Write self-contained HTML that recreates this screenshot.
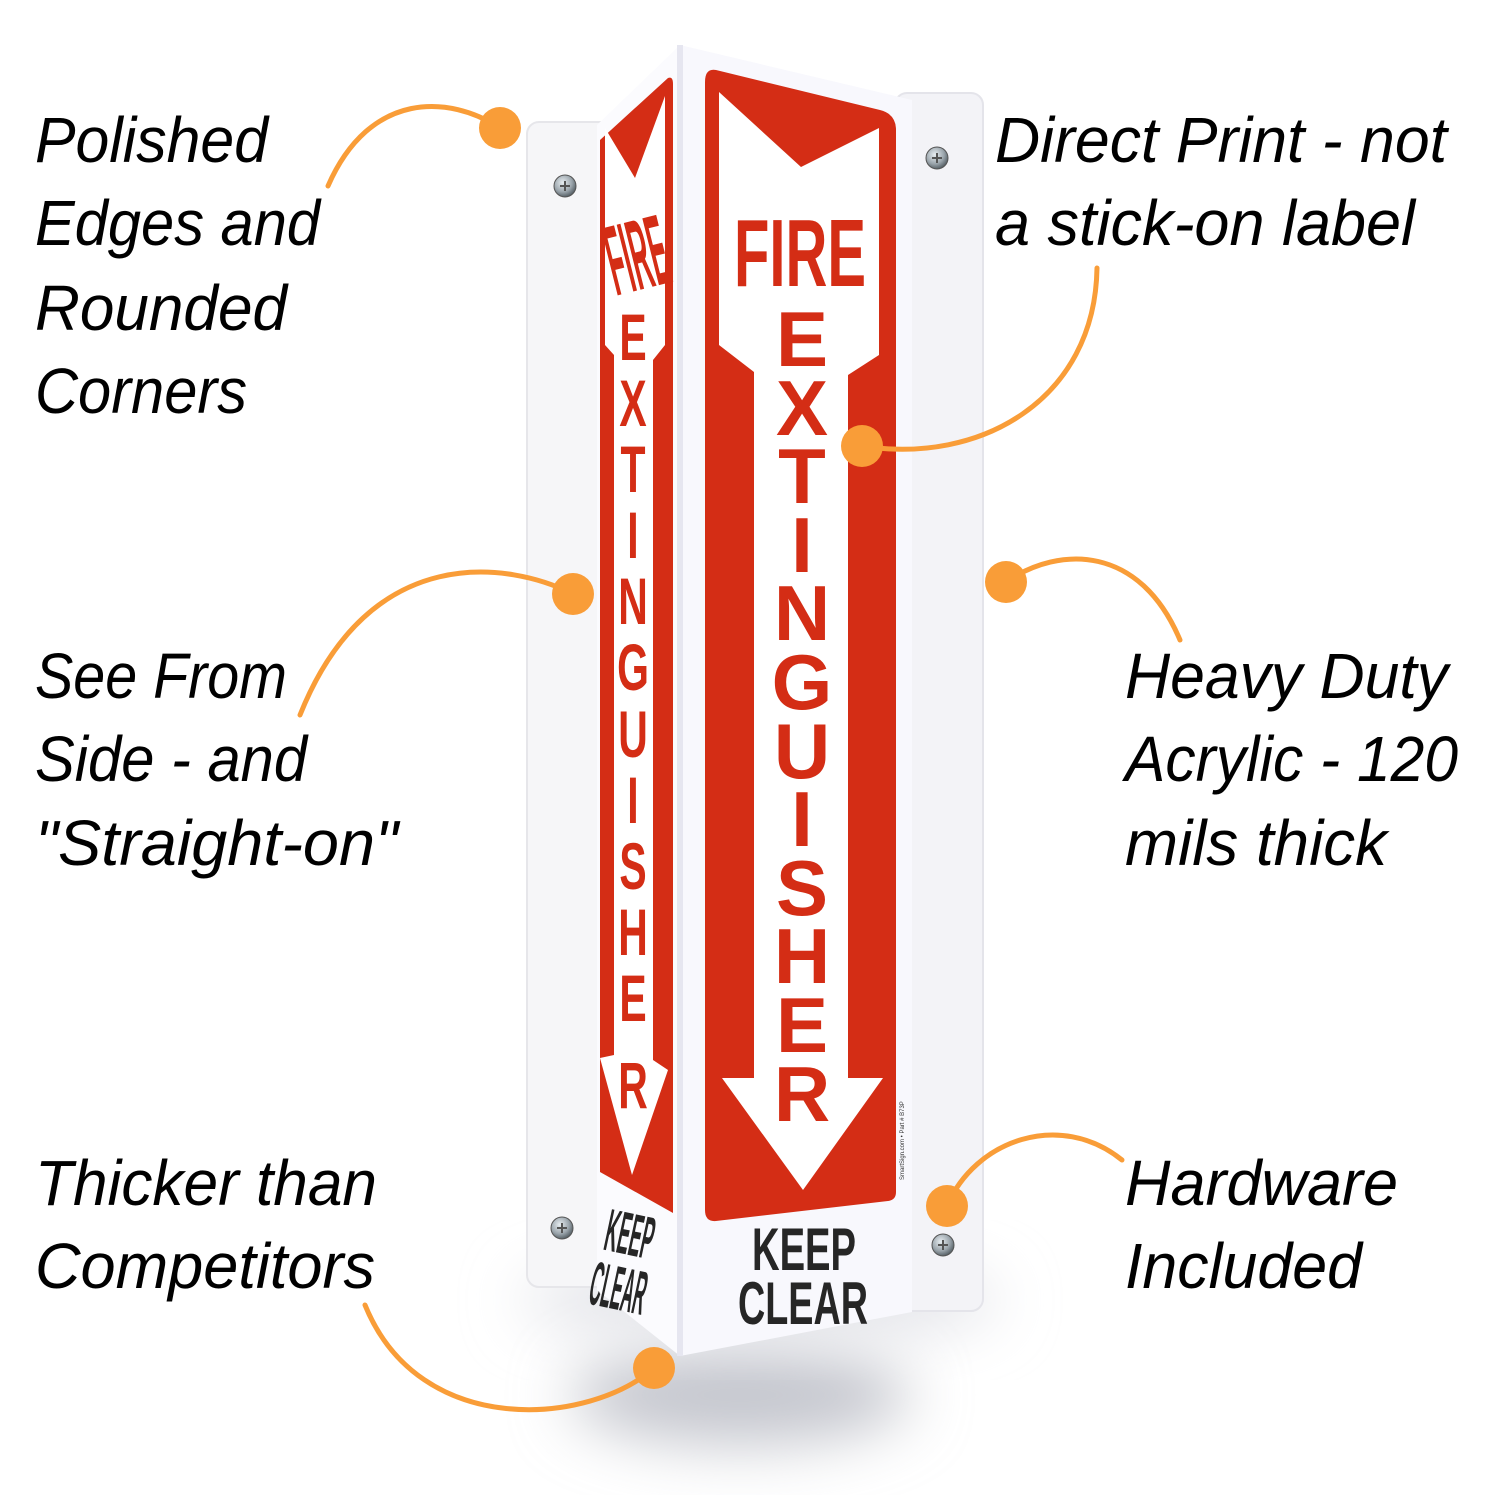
<!DOCTYPE html>
<html><head><meta charset="utf-8"><style>
html,body{margin:0;padding:0;background:#fff;width:1500px;height:1500px;overflow:hidden}
</style></head><body>
<svg width="1500" height="1500" viewBox="0 0 1500 1500" xmlns="http://www.w3.org/2000/svg">
<defs>
<filter id="blur" x="-50%" y="-50%" width="200%" height="200%"><feGaussianBlur stdDeviation="30"/></filter>
<radialGradient id="scr" cx="40%" cy="35%" r="70%"><stop offset="0" stop-color="#e8eef2"/><stop offset="0.6" stop-color="#9aa4ab"/><stop offset="1" stop-color="#4a545a"/></radialGradient>
</defs>
<ellipse cx="740" cy="1395" rx="170" ry="50" fill="#c4c6ce" filter="url(#blur)"/>
<ellipse cx="760" cy="1300" rx="240" ry="40" fill="#e2e3e8" filter="url(#blur)"/>
<rect x="527" y="122" width="90" height="1165" rx="12" fill="#f6f6f8" stroke="#e6e6ea" stroke-width="2"/>
<rect x="895" y="93" width="88" height="1218" rx="12" fill="#f3f3f7" stroke="#e4e4ea" stroke-width="2"/>
<polygon points="597,125 680,45 680,1356 597,1290" fill="#fbfbfe"/>
<polygon points="680,45 912,100 912,1312 680,1356" fill="#f8f8fd"/>
<line x1="680" y1="45" x2="680" y2="1356" stroke="#e6e6f0" stroke-width="6"/>
<path d="M600,140 L668,78 Q673,76 673,84 L673,1213 L600,1172 Z" fill="#d42d15"/>
<path d="M605,128 L635,178 L665,96 L665,345 L653,360 L653,1060 L668,1070 L632,1175 L600,1058 L614,1055 L614,355 L605,345 Z" fill="#fff"/>
<path d="M716,70 L880,110 Q896,114 896,130 L896,1192 Q896,1200 888,1201 L716,1221 Q705,1222 705,1210 L705,82 Q705,68 716,70 Z" fill="#d42d15"/>
<path d="M719,92 L801,167 L879,128 L879,355 L848,375 L848,1078 L883,1078 L803,1190 L722,1078 L754,1078 L754,372 L719,345 Z" fill="#fff"/>
<text x="734" y="286" font-family="Liberation Sans, sans-serif" font-weight="bold" font-size="96" fill="#d42d15" textLength="132" lengthAdjust="spacingAndGlyphs">FIRE</text>
<g transform="translate(634 248) rotate(-14)"><text x="-29" y="42" font-family="Liberation Sans, sans-serif" font-weight="bold" font-size="100" fill="#d42d15" textLength="60" lengthAdjust="spacingAndGlyphs">FIRE</text></g>
<g font-family="Liberation Sans, sans-serif" font-weight="bold" font-size="78" fill="#d42d15" text-anchor="middle">
<text x="802" y="366">E</text><text x="802" y="435">X</text><text x="802" y="503">T</text><text x="802" y="572">I</text><text x="802" y="640">N</text><text x="802" y="709">G</text><text x="802" y="778">U</text><text x="802" y="846">I</text><text x="802" y="915">S</text><text x="802" y="983">H</text><text x="802" y="1052">E</text><text x="802" y="1121">R</text>
</g>
<g font-family="Liberation Sans, sans-serif" font-weight="bold" font-size="66" fill="#d42d15" text-anchor="middle" transform="translate(633 0) scale(0.62 1) translate(-633 0)">
<text x="633" y="360">E</text><text x="633" y="426">X</text><text x="633" y="492">T</text><text x="633" y="558">I</text><text x="633" y="624">N</text><text x="633" y="690">G</text><text x="633" y="757">U</text><text x="633" y="823">I</text><text x="633" y="889">S</text><text x="633" y="955">H</text><text x="633" y="1021">E</text><text x="633" y="1108">R</text>
</g>
<g font-family="Liberation Sans, sans-serif" font-weight="bold" fill="#262626">
<text x="752" y="1270" font-size="60" textLength="104" lengthAdjust="spacingAndGlyphs">KEEP</text>
<text x="738" y="1324" font-size="60" textLength="130" lengthAdjust="spacingAndGlyphs">CLEAR</text>
</g>
<g transform="translate(632 1225) rotate(12)" font-family="Liberation Sans, sans-serif" font-weight="bold" fill="#262626">
<text x="-24" y="30" font-size="60" textLength="48" lengthAdjust="spacingAndGlyphs">KEEP</text>
<text x="-28" y="86" font-size="62" textLength="56" lengthAdjust="spacingAndGlyphs">CLEAR</text>
</g>
<text transform="translate(904 1180) rotate(-90)" font-family="Liberation Sans, sans-serif" font-size="6" fill="#333">SmartSign.com • Part # B73P</text>
<g stroke="#555" stroke-width="1">
<circle cx="565" cy="186" r="11" fill="url(#scr)"/><circle cx="937" cy="158" r="11" fill="url(#scr)"/>
<circle cx="562" cy="1228" r="11" fill="url(#scr)"/><circle cx="943" cy="1245" r="11" fill="url(#scr)"/>
</g>
<g stroke="#555" stroke-width="2">
<path d="M560,186 h10 M565,181 v10"/><path d="M932,158 h10 M937,153 v10"/><path d="M557,1228 h10 M562,1223 v10"/><path d="M938,1245 h10 M943,1240 v10"/>
</g>
<g fill="none" stroke="#f99d38" stroke-width="5" stroke-linecap="round">
<path d="M500,128 C450,95 370,90 328,186"/>
<path d="M573,594 C510,562 370,540 300,715"/>
<path d="M862,446 C980,465 1095,400 1097,268"/>
<path d="M1006,582 C1060,545 1140,545 1180,640"/>
<path d="M947,1206 C975,1140 1060,1110 1122,1160"/>
<path d="M654,1368 C590,1425 420,1440 365,1305"/>
</g>
<g fill="#f99d38">
<circle cx="500" cy="128" r="21"/><circle cx="573" cy="594" r="21"/><circle cx="862" cy="446" r="21"/>
<circle cx="1006" cy="582" r="21"/><circle cx="947" cy="1206" r="21"/><circle cx="654" cy="1368" r="21"/>
</g>
<g font-family="Liberation Sans, sans-serif" font-style="italic" font-size="64" fill="#000">
<text x="35" y="162" textLength="233" lengthAdjust="spacingAndGlyphs">Polished</text>
<text x="35" y="245" textLength="285" lengthAdjust="spacingAndGlyphs">Edges and</text>
<text x="35" y="330" textLength="252" lengthAdjust="spacingAndGlyphs">Rounded</text>
<text x="35" y="413" textLength="212" lengthAdjust="spacingAndGlyphs">Corners</text>
<text x="35" y="698" textLength="252" lengthAdjust="spacingAndGlyphs">See From</text>
<text x="35" y="781" textLength="272" lengthAdjust="spacingAndGlyphs">Side - and</text>
<text x="35" y="865" textLength="363" lengthAdjust="spacingAndGlyphs">"Straight-on"</text>
<text x="35" y="1205" textLength="342" lengthAdjust="spacingAndGlyphs">Thicker than</text>
<text x="35" y="1288" textLength="340" lengthAdjust="spacingAndGlyphs">Competitors</text>
<text x="995" y="162" textLength="452" lengthAdjust="spacingAndGlyphs">Direct Print - not</text>
<text x="995" y="245" textLength="420" lengthAdjust="spacingAndGlyphs">a stick-on label</text>
<text x="1125" y="698" textLength="323" lengthAdjust="spacingAndGlyphs">Heavy Duty</text>
<text x="1125" y="781" textLength="333" lengthAdjust="spacingAndGlyphs">Acrylic - 120</text>
<text x="1125" y="865" textLength="262" lengthAdjust="spacingAndGlyphs">mils thick</text>
<text x="1125" y="1205" textLength="273" lengthAdjust="spacingAndGlyphs">Hardware</text>
<text x="1125" y="1288" textLength="237" lengthAdjust="spacingAndGlyphs">Included</text>
</g>
</svg>
</body></html>
